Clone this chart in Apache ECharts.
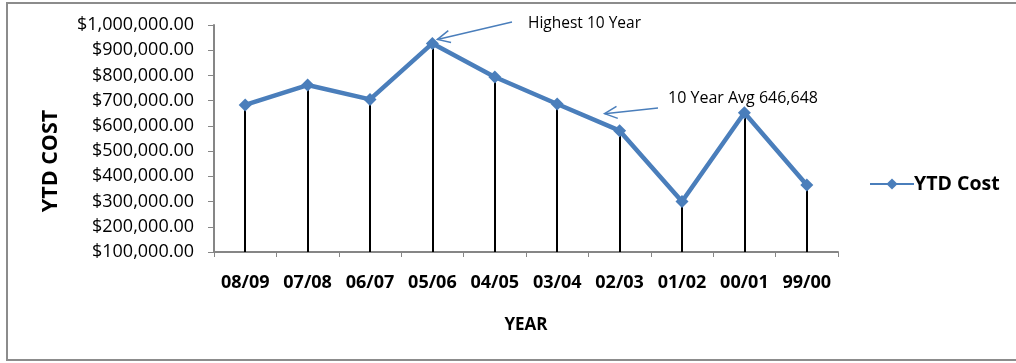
<!DOCTYPE html>
<html>
<head>
<meta charset="utf-8">
<script src="https://cdn.jsdelivr.net/npm/echarts@6/dist/echarts.min.js"></script>
<style>
  html, body { margin: 0; padding: 0; background: #fff; }
  #cost-chart { width: 1016px; height: 363px; }
</style>
</head>
<body>
<div id="cost-chart"></div>
<script>
var years = ['08/09', '07/08', '06/07', '05/06', '04/05', '03/04', '02/03', '01/02', '00/01', '99/00'];
var ytdCost = [683000, 762000, 705000, 927000, 794000, 687000, 581000, 300000, 652000, 366000];
var axisMin = 100000;
var axisMax = 1000000;
var axisStep = 100000;

function money(v) {
    return '$' + v.toLocaleString('en-US', {minimumFractionDigits: 2, maximumFractionDigits: 2});
}

function initCostChart() {
    var _chart = echarts.init(document.getElementById('cost-chart'));
    var font = '"Open Sans", Lato, sans-serif';

    // drop lines from every point down to the axis
    var dropLines = [];
    for (var i = 0; i < years.length; i++) {
        dropLines.push([
            {coord: [years[i], ytdCost[i]]},
            {coord: [years[i], axisMin]}
        ]);
    }

    var border = {
        type: 'rect',
        shape: {x: 7, y: 3, width: 1030, height: 357},
        style: {fill: 'none', stroke: '#8c8c8c', lineWidth: 2},
        silent: true
    };
    var yTitle = {
        type: 'text',
        x: 51, y: 161,
        rotation: Math.PI / 2,
        style: {text: 'YTD COST', fontSize: 21.5, fontWeight: 'bold', fill: '#000', fontFamily: font,
                align: 'center', verticalAlign: 'middle'}
    };

    var option = {
        animation: false,
        textStyle: {fontFamily: font},
        grid: {left: 214, right: 178, top: 25, bottom: 111},
        legend: {
            data: ['YTD Cost'],
            left: 864,
            top: 169,
            itemWidth: 44,
            itemHeight: 14,
            itemGap: 2,
            textStyle: {fontSize: 19.5, fontWeight: 'bold', color: '#000', fontFamily: font, padding: [0, 0, 0, -5]}
        },
        xAxis: {
            type: 'category',
            data: years,
            boundaryGap: true,
            name: 'YEAR',
            nameLocation: 'middle',
            nameGap: 65,
            nameTextStyle: {fontSize: 17, fontWeight: 'bold', color: '#000', verticalAlign: 'top'},
            axisLine: {lineStyle: {color: '#868686', width: 2}},
            axisTick: {show: true, alignWithLabel: false, interval: 0, length: 5, lineStyle: {color: '#868686', width: 1}},
            axisLabel: {interval: 0, hideOverlap: false, fontSize: 18, fontWeight: 'bold', color: '#000', margin: 22}
        },
        yAxis: {
            type: 'value',
            min: axisMin,
            max: axisMax,
            interval: axisStep,
            axisLine: {show: true, lineStyle: {color: '#868686', width: 2}},
            axisTick: {show: true, length: 6, lineStyle: {color: '#868686', width: 1}},
            splitLine: {show: false},
            axisLabel: {fontSize: 18, color: '#000', margin: 20, formatter: money}
        },
        series: [{
            name: 'YTD Cost',
            type: 'line',
            data: ytdCost,
            symbol: 'diamond',
            symbolSize: 13,
            lineStyle: {color: '#4a7ebb', width: 4.5},
            itemStyle: {color: '#4a7ebb'},
            z: 3,
            markLine: {
                silent: true,
                symbol: ['none', 'none'],
                label: {show: false},
                lineStyle: {color: '#000', width: 2, type: 'solid'},
                z: 2,
                data: dropLines
            }
        }],
        graphic: [border, yTitle]
    };
    _chart.setOption(option);

    // annotations with arrows, anchored to the points they refer to
    var peak = _chart.convertToPixel({seriesIndex: 0}, [years[3], ytdCost[3]]);
    var mid = _chart.convertToPixel({seriesIndex: 0}, [years[6], ytdCost[6]]);
    function arrow(x1, y1, x2, y2) {
        var a = Math.atan2(y2 - y1, x2 - x1);
        var h = 14, s = 0.45;
        return [{
            type: 'line',
            shape: {x1: x1, y1: y1, x2: x2, y2: y2},
            style: {stroke: '#4a7ebb', lineWidth: 1.5}
        }, {
            type: 'polyline',
            shape: {points: [
                [x2 - h * Math.cos(a - s), y2 - h * Math.sin(a - s)],
                [x2, y2],
                [x2 - h * Math.cos(a + s), y2 - h * Math.sin(a + s)]
            ]},
            style: {stroke: '#4a7ebb', lineWidth: 1.5, fill: 'none'}
        }];
    }
    var extra = [].concat(
        arrow(512, 22, peak[0] + 5, peak[1] - 4),
        arrow(658, 108, mid[0] - 15, mid[1] - 17),
        [{
            type: 'text', x: 528, y: 24,
            style: {text: 'Highest 10 Year', fontSize: 15.5, fill: '#000', fontFamily: font, verticalAlign: 'middle'}
        }, {
            type: 'text', x: 668, y: 98,
            style: {text: '10 Year Avg 646,648', fontSize: 16, fill: '#000', fontFamily: font, verticalAlign: 'middle'}
        }]
    );
    _chart.setOption({graphic: option.graphic.concat(extra)});

    window.addEventListener('resize', function () {
        _chart.resize();
    });
}

initCostChart();
</script>
</body>
</html>
